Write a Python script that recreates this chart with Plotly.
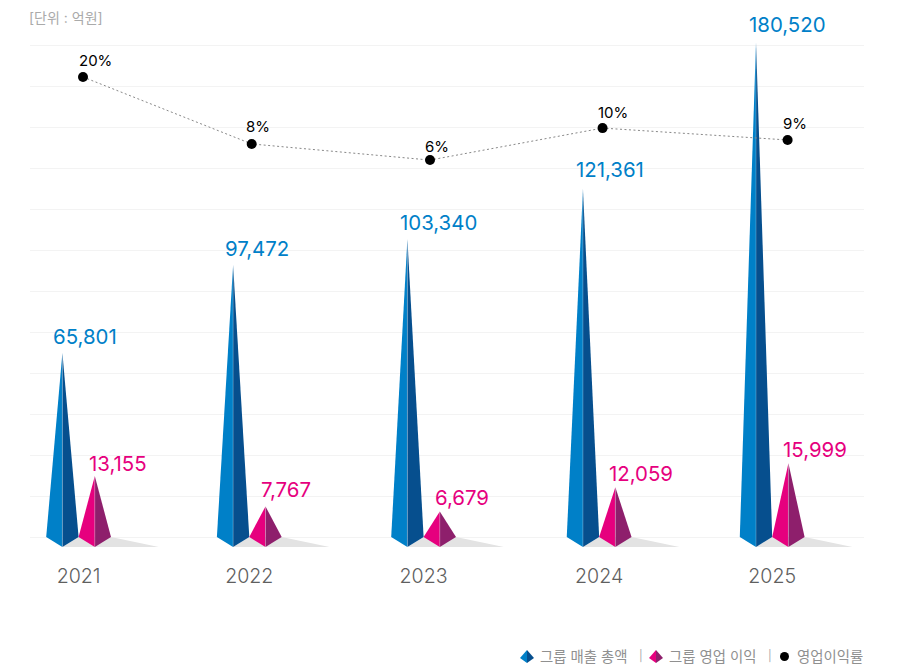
import plotly.graph_objects as go

# ---- data ----
years = ["2021", "2022", "2023", "2024", "2025"]
sales_labels = ["65,801", "97,472", "103,340", "121,361", "180,520"]
profit_labels = ["13,155", "7,767", "6,679", "12,059", "15,999"]
rate_labels = ["20%", "8%", "6%", "10%", "9%"]
# drawn heights, read against the 15,000-step gridlines
sales_heights = [67300, 99500, 109000, 127300, 181000]
profit_heights = [22300, 11200, 9350, 18200, 27000]
rate_levels = [168300, 143800, 137900, 149600, 145250]
gridlines = list(range(0, 195000, 15000))

# ---- layout constants ----
W, H = 905, 665
L, R, T, B = 30, 864, 0, 560
Y_ZERO_PX, Y_MAX_PX, Y_MAX = 537, 45, 180000
U = Y_MAX / (Y_ZERO_PX - Y_MAX_PX)      # axis units per px, vertical
PX_PER_GROUP = 173.4
X0_PX = 78.6
nudges = [0.0, -0.0156, -0.0104, 0.002, 0.0]
centers = [i + n for i, n in enumerate(nudges)]
half = 16.2 / PX_PER_GROUP
tip = -10 * U
shadow_len = 64 / PX_PER_GROUP

BLUE_L, BLUE_R = "#0080C8", "#064F8E"
PINK_L, PINK_R = "#E6007E", "#8E1F6C"
BLUE_T, PINK_T = "#0080C8", "#E6007E"
FONT = "Inter, 'Noto Sans CJK KR', sans-serif"

sales_off = [(22.5, 17), (23.5, 17), (31.5, 17), (27.5, 20), (31.5, 18)]
profit_off = [(23.5, 13), (20.5, 17), (22.5, 14), (25.5, 14), (26.5, 14)]
rate_dx = [4.4, 2.4, 6.4, 3.4, 15.4]
rate_lab = [(12, 16), (6, 17), (7, 14), (10, 16), (7, 16)]

fig = go.Figure()


def poly(xs, ys, color):
    fig.add_trace(go.Scatter(x=xs, y=ys, mode="lines", fill="toself", fillcolor=color,
                             line=dict(width=0, color=color), hoverinfo="skip",
                             showlegend=False))


def pyramid(cx, h, left, right):
    poly([cx - half, cx, cx, cx - half], [0, h, tip, 0], left)
    poly([cx, cx + half, cx, cx], [h, 0, tip, h], right)
    fig.add_trace(go.Scatter(x=[cx, cx], y=[h, tip], mode="lines", hoverinfo="skip",
                             line=dict(width=0.7, color="rgba(255,255,255,0.35)"),
                             showlegend=False))


for i, c in enumerate(centers):
    bx, px = c - half, c + half
    poly([bx, bx + half, px + half, px + shadow_len, bx],
         [tip, 0, 0, tip, tip], "#E3E3E3")
    pyramid(bx, sales_heights[i], BLUE_L, BLUE_R)
    pyramid(px, profit_heights[i], PINK_L, PINK_R)

rate_x = [c + d / PX_PER_GROUP for c, d in zip(centers, rate_dx)]
fig.add_trace(go.Scatter(x=rate_x, y=rate_levels, mode="lines+markers",
                         line=dict(color="#888888", width=1, dash="2px,2.5px"),
                         marker=dict(color="#000000", size=10), hoverinfo="skip",
                         showlegend=False))

for i, c in enumerate(centers):
    fig.add_annotation(x=c - half, y=sales_heights[i], text=sales_labels[i], showarrow=False,
                       xshift=sales_off[i][0], yshift=sales_off[i][1],
                       font=dict(size=20.4, color=BLUE_T, family=FONT))
    fig.add_annotation(x=c + half, y=profit_heights[i], text=profit_labels[i], showarrow=False,
                       xshift=profit_off[i][0], yshift=profit_off[i][1],
                       font=dict(size=20.4, color=PINK_T, family=FONT))
    fig.add_annotation(x=rate_x[i], y=rate_levels[i], text=rate_labels[i], showarrow=False,
                       xshift=rate_lab[i][0], yshift=rate_lab[i][1],
                       font=dict(size=15, color="#000000", family=FONT))


def px_x(p):
    return (p - L) / (R - L)


def px_y(p):
    return (B - p) / (B - T)


def note(text, x, y, size, color, anchor="left"):
    fig.add_annotation(xref="paper", yref="paper", x=px_x(x), y=px_y(y), text=text,
                       showarrow=False, xanchor=anchor, yanchor="middle", xshift=0,
                       font=dict(size=size, color=color, family=FONT))


def legend_icon(cx, left, right):
    top, mid, bot, hw = 650, 658, 663, 7
    for pts, col in (([(cx - hw, mid), (cx, top), (cx, bot)], left),
                     ([(cx, top), (cx + hw, mid), (cx, bot)], right)):
        d = "M" + " L".join(f"{px_x(a):.5f},{px_y(b):.5f}" for a, b in pts) + " Z"
        fig.add_shape(type="path", xref="paper", yref="paper", path=d, fillcolor=col,
                      line=dict(width=0), layer="above")


note("[단위 : 억원]", 27, 17, 14, "#AAAAAA")
legend_icon(527, BLUE_L, BLUE_R)
note("그룹 매출 총액", 537.5, 656, 14.4, "#909090")
note("|", 637, 656, 11, "#AAAAAA")
legend_icon(656, PINK_L, PINK_R)
note("그룹 영업 이익", 666.5, 656, 14.4, "#909090")
note("|", 766, 656, 11, "#AAAAAA")
fig.add_shape(type="circle", xref="paper", yref="paper", x0=px_x(780), x1=px_x(789),
              y0=px_y(661), y1=px_y(652), fillcolor="#000000", line=dict(width=0))
note("영업이익률", 794.5, 656, 14.4, "#909090")

fig.update_layout(
    width=W, height=H, autosize=False,
    margin=dict(l=L, r=W - R, t=T, b=H - B),
    paper_bgcolor="white", plot_bgcolor="white", showlegend=False,
    xaxis=dict(range=[(L - X0_PX) / PX_PER_GROUP, (R - X0_PX) / PX_PER_GROUP],
               tickmode="array", tickvals=centers, ticktext=years,
               showgrid=False, zeroline=False, showline=False,
               ticks="", ticklabelstandoff=2,
               tickfont=dict(size=19.6, color="#5F5F5F", family=FONT, weight=300),
               fixedrange=True),
    yaxis=dict(range=[-(B - Y_ZERO_PX) * U, Y_MAX + (Y_MAX_PX - T) * U],
               tickmode="array", tickvals=gridlines, showticklabels=False,
               showgrid=True, gridcolor="#F3F3F3", gridwidth=1,
               zeroline=False, showline=False, ticks="", fixedrange=True),
)

fig.write_html("out.html", config={"displayModeBar": False},
               post_script="document.body.style.margin='0';")
